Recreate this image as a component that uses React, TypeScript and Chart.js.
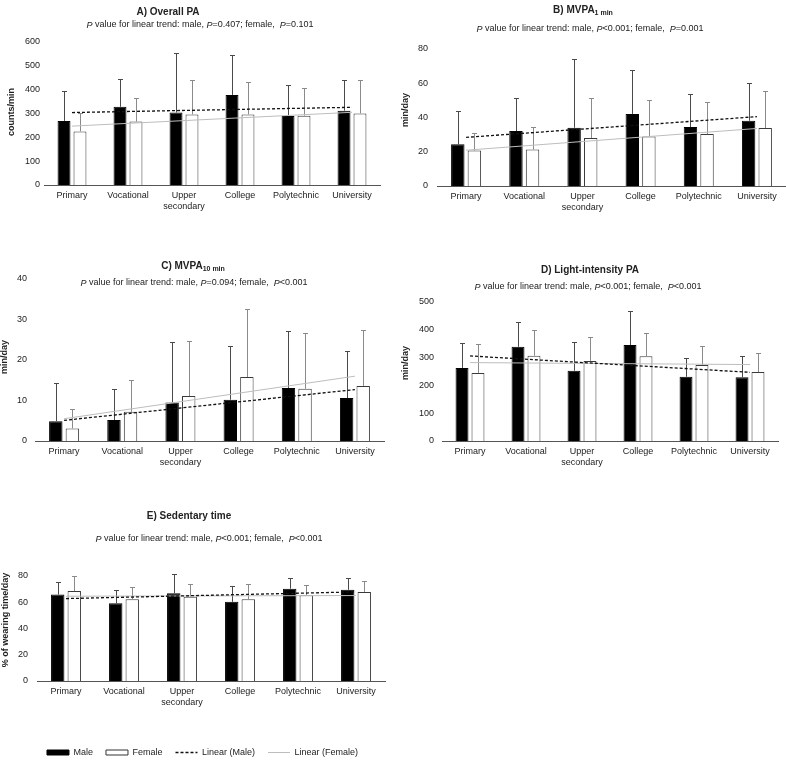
import React, { useEffect, useRef } from 'react';
import { Chart, registerables } from 'chart.js';

Chart.register(...registerables);

// ---------- data ----------
const categories = ['Primary', 'Vocational', 'Upper secondary', 'College', 'Polytechnic', 'University'];

// A) Overall PA (counts/min)
const aMale = [269, 328, 304, 378, 290, 312];
const aMaleSD = [124, 115, 251, 169, 128, 130];
const aFemale = [225, 266, 296, 296, 291, 300];
const aFemaleSD = [78, 98, 146, 135, 118, 142];
const aTrendMale = [304, 326];
const aTrendFemale = [247, 305];

// B) MVPA 1 min (min/day)
const bMale = [24.4, 32.1, 34.0, 42.1, 34.4, 38.1];
const bMaleSD = [19.2, 19.3, 40.1, 25.6, 19.2, 21.9];
const bFemale = [20.7, 21.3, 28.0, 28.9, 30.3, 33.8];
const bFemaleSD = [10.4, 13.3, 23.1, 21.4, 18.6, 21.7];
const bTrendMale = [28.4, 40.5];
const bTrendFemale = [20.9, 33.6];

// C) MVPA 10 min (min/day)
const cMale = [4.9, 5.2, 9.5, 10.2, 13.1, 10.6];
const cMaleSD = [9.5, 7.7, 15.0, 13.3, 14.0, 11.5];
const cFemale = [3.1, 7.2, 11.1, 15.8, 12.9, 13.6];
const cFemaleSD = [4.9, 7.9, 13.6, 16.7, 13.7, 13.8];
const cTrendMale = [5.1, 12.7];
const cTrendFemale = [5.5, 16.0];

// D) Light-intensity PA (min/day)
const dMale = [263, 339, 253, 345, 231, 229];
const dMaleSD = [90, 89, 102, 124, 68, 77];
const dFemale = [245, 307, 288, 305, 273, 248];
const dFemaleSD = [103, 91, 87, 83, 70, 69];
const dTrendMale = [306, 247];
const dTrendFemale = [282, 275];

// E) Sedentary time (% of wearing time/day)
const eMale = [65.9, 59.2, 66.9, 60.3, 70.3, 69.5];
const eMaleSD = [9.7, 9.8, 14.6, 12.0, 8.2, 9.2];
const eFemale = [68.5, 62.3, 64.1, 62.3, 65.4, 67.9];
const eFemaleSD = [11.2, 9.5, 10.0, 11.3, 7.7, 8.5];
const eTrendMale = [62.8, 67.9];
const eTrendFemale = [64.6, 65.1];

const legendLabels = ['Male', 'Female', 'Linear (Male)', 'Linear (Female)'];

// ---------- helpers ----------
type Seg = { t: string; i?: boolean; sub?: boolean };
const FONT = '"Liberation Sans", Arial, sans-serif';
const TEXT = '#222';

const pSub = (m: string, f: string): Seg[] => [
  { t: 'P', i: true },
  { t: ' value for linear trend: male, ' },
  { t: 'P', i: true },
  { t: m + '; female,  ' },
  { t: 'P', i: true },
  { t: f },
];

function segFont(s: Seg, size: number, bold: boolean) {
  const sz = s.sub ? Math.round(size * 0.65) : size;
  return `${s.i ? 'italic ' : ''}${bold ? 'bold ' : ''}${sz}px ${FONT}`;
}

function drawRich(ctx: CanvasRenderingContext2D, segs: Seg[], cx: number, cy: number, size: number, bold: boolean) {
  let total = 0;
  const widths = segs.map((s) => {
    ctx.font = segFont(s, size, bold);
    const w = ctx.measureText(s.t).width;
    total += w;
    return w;
  });
  let x = cx - total / 2;
  ctx.textAlign = 'left';
  ctx.textBaseline = 'middle';
  segs.forEach((s, k) => {
    ctx.font = segFont(s, size, bold);
    ctx.fillText(s.t, x, cy + (s.sub ? 3 : 0));
    x += widths[k];
  });
}

const panelTextPlugin = {
  id: 'panelText',
  afterLayout(chart: any, _args: any, o: any) {
    if (o && o.legendShift && chart.legend) {
      chart.legend.left += o.legendShift;
      chart.legend.right += o.legendShift;
    }
  },
  afterDraw(chart: any, _args: any, o: any) {
    if (!o || !o.title) return;
    const ctx = chart.ctx as CanvasRenderingContext2D;
    ctx.save();
    ctx.fillStyle = TEXT;
    drawRich(ctx, o.title, o.titleX, o.titleY, 10, true);
    drawRich(ctx, o.sub, o.subX, o.subY, 9, false);
    ctx.translate(o.yTitleX, o.yTitleY);
    ctx.rotate(-Math.PI / 2);
    ctx.font = `bold 9px ${FONT}`;
    ctx.textAlign = 'center';
    ctx.textBaseline = 'middle';
    ctx.fillText(o.yTitle, 0, 0);
    ctx.restore();
  },
};

const errorBarPlugin = {
  id: 'errorBars',
  afterDatasetDraw(chart: any, args: any) {
    const ds = chart.data.datasets[args.index];
    const sd = ds.errors as number[] | undefined;
    if (!sd) return;
    const yScale = chart.scales.y;
    const ctx = chart.ctx as CanvasRenderingContext2D;
    ctx.save();
    ctx.strokeStyle = ds.errorColor;
    ctx.lineWidth = 1;
    args.meta.data.forEach((bar: any, i: number) => {
      const top = Math.round(yScale.getPixelForValue(ds.data[i] + sd[i])) + 0.5;
      const x = Math.round(bar.x) + 0.5;
      ctx.beginPath();
      ctx.moveTo(x, bar.y);
      ctx.lineTo(x, top);
      ctx.moveTo(x - 2.5, top);
      ctx.lineTo(x + 2.5, top);
      ctx.stroke();
    });
    ctx.restore();
  },
};

interface PanelDef {
  left: number; top: number; width: number; height: number;
  plotLeft: number; plotRight: number; plotTop: number; plotBottom: number;
  yMax: number; yStep: number; tickPad: number;
  male: number[]; maleSD: number[]; female: number[]; femaleSD: number[];
  trendMale: number[]; trendFemale: number[];
  title: Seg[]; titleX: number; titleY: number;
  sub: Seg[]; subX: number; subY: number;
  yTitle: string; yTitleX: number; yTitleY: number;
  legend?: boolean;
  legendShift?: number;
}

const trendData = (t: number[]) => categories.map((_, i) => (i === 0 ? t[0] : i === categories.length - 1 ? t[1] : null));

const LEGEND_FONT = 9;
const LEGEND_PAD = 13;

function Panel({ p }: { p: PanelDef }) {
  const ref = useRef<HTMLCanvasElement>(null);
  useEffect(() => {
    const legendH = p.legend ? LEGEND_FONT + LEGEND_PAD + 10 : 0;
    const chart = new Chart(ref.current!, {
      type: 'bar',
      data: {
        labels: categories.map((c) => c.split(' ')),
        datasets: [
          {
            type: 'bar', label: legendLabels[0], data: p.male,
            backgroundColor: '#000', borderColor: '#000', borderWidth: 1,
            categoryPercentage: 0.57, barPercentage: 0.81, order: 1,
            errors: p.maleSD, errorColor: '#4a4a4a',
          } as any,
          {
            type: 'bar', label: legendLabels[1], data: p.female,
            backgroundColor: '#fff', borderColor: '#3a3a3a', borderWidth: 1,
            categoryPercentage: 0.57, barPercentage: 0.81, order: 1,
            errors: p.femaleSD, errorColor: '#8a8a8a',
          } as any,
          {
            type: 'line', label: legendLabels[2], data: trendData(p.trendMale),
            borderColor: '#111', borderWidth: 1.3, borderDash: [3, 2], pointRadius: 0,
            spanGaps: true, fill: false, order: 0, tension: 0,
          } as any,
          {
            type: 'line', label: legendLabels[3], data: trendData(p.trendFemale),
            borderColor: '#bdbdbd', borderWidth: 1, pointRadius: 0,
            spanGaps: true, fill: false, order: 0, tension: 0,
          } as any,
        ],
      },
      options: {
        responsive: false,
        animation: false,
        devicePixelRatio: 1,
        layout: {
          padding: { left: 0, top: p.plotTop, right: p.width - p.plotRight, bottom: 0 },
        },
        plugins: {
          title: { display: false },
          tooltip: { enabled: false },
          legend: p.legend
            ? {
                display: true,
                position: 'bottom',
                labels: {
                  usePointStyle: true,
                  pointStyleWidth: 22,
                  boxHeight: 5,
                  padding: LEGEND_PAD,
                  color: TEXT,
                  font: { family: FONT, size: LEGEND_FONT },
                  generateLabels: () => [
                    { text: legendLabels[0], fillStyle: '#000', strokeStyle: '#000', lineWidth: 1, pointStyle: 'rect', hidden: false, datasetIndex: 0, fontColor: TEXT },
                    { text: legendLabels[1], fillStyle: '#fff', strokeStyle: '#333', lineWidth: 1, pointStyle: 'rect', hidden: false, datasetIndex: 1, fontColor: TEXT },
                    { text: legendLabels[2], fillStyle: 'rgba(0,0,0,0)', strokeStyle: '#111', lineWidth: 1.3, lineDash: [3, 2], pointStyle: 'line', hidden: false, datasetIndex: 2, fontColor: TEXT },
                    { text: legendLabels[3], fillStyle: 'rgba(0,0,0,0)', strokeStyle: '#bdbdbd', lineWidth: 1, pointStyle: 'line', hidden: false, datasetIndex: 3, fontColor: TEXT },
                  ],
                },
              }
            : { display: false },
          panelText: {
            title: p.title, titleX: p.titleX, titleY: p.titleY,
            sub: p.sub, subX: p.subX, subY: p.subY,
            yTitle: p.yTitle, yTitleX: p.yTitleX, yTitleY: p.yTitleY,
            legendShift: p.legendShift || 0,
          },
        } as any,
        scales: {
          x: {
            grid: { display: false, drawTicks: false },
            border: { display: true, color: '#555', width: 1 },
            ticks: {
              color: TEXT, font: { family: FONT, size: 9 }, padding: 5,
              maxRotation: 0, autoSkip: false,
            },
            afterFit: (s: any) => { s.height = p.height - p.plotBottom - legendH; },
          },
          y: {
            min: 0, max: p.yMax,
            grid: { display: false, drawTicks: false },
            border: { display: false },
            ticks: {
              stepSize: p.yStep, color: TEXT, font: { family: FONT, size: 9 }, padding: p.tickPad,
            },
            afterFit: (s: any) => { s.width = p.plotLeft; },
          },
        },
      } as any,
      plugins: [panelTextPlugin, errorBarPlugin],
    });
    return () => chart.destroy();
  }, [p]);
  return (
    <canvas
      ref={ref}
      width={p.width}
      height={p.height}
      style={{ position: 'absolute', left: p.left, top: p.top, width: p.width, height: p.height }}
    />
  );
}

const panels: PanelDef[] = [
  {
    left: 0, top: 0, width: 393, height: 230,
    plotLeft: 44, plotRight: 380, plotTop: 42, plotBottom: 185,
    yMax: 600, yStep: 100, tickPad: 4,
    male: aMale, maleSD: aMaleSD, female: aFemale, femaleSD: aFemaleSD,
    trendMale: aTrendMale, trendFemale: aTrendFemale,
    title: [{ t: 'A) Overall PA' }], titleX: 168, titleY: 12,
    sub: pSub('=0.407', '=0.101'), subX: 200, subY: 25,
    yTitle: 'counts/min', yTitleX: 12, yTitleY: 112,
  },
  {
    left: 393, top: 0, width: 393, height: 230,
    plotLeft: 44, plotRight: 393, plotTop: 49, plotBottom: 186,
    yMax: 80, yStep: 20, tickPad: 9,
    male: bMale, maleSD: bMaleSD, female: bFemale, femaleSD: bFemaleSD,
    trendMale: bTrendMale, trendFemale: bTrendFemale,
    title: [{ t: 'B) MVPA' }, { t: '1 min', sub: true }], titleX: 190, titleY: 10,
    sub: pSub('<0.001', '=0.001'), subX: 197, subY: 29,
    yTitle: 'min/day', yTitleX: 13, yTitleY: 110,
  },
  {
    left: 0, top: 230, width: 393, height: 250,
    plotLeft: 35, plotRight: 384, plotTop: 49, plotBottom: 211,
    yMax: 40, yStep: 10, tickPad: 8,
    male: cMale, maleSD: cMaleSD, female: cFemale, femaleSD: cFemaleSD,
    trendMale: cTrendMale, trendFemale: cTrendFemale,
    title: [{ t: 'C) MVPA' }, { t: '10 min', sub: true }], titleX: 193, titleY: 36,
    sub: pSub('=0.094', '<0.001'), subX: 194, subY: 53,
    yTitle: 'min/day', yTitleX: 5, yTitleY: 127,
  },
  {
    left: 393, top: 230, width: 393, height: 250,
    plotLeft: 49, plotRight: 385, plotTop: 72, plotBottom: 211,
    yMax: 500, yStep: 100, tickPad: 8,
    male: dMale, maleSD: dMaleSD, female: dFemale, femaleSD: dFemaleSD,
    trendMale: dTrendMale, trendFemale: dTrendFemale,
    title: [{ t: 'D) Light-intensity PA' }], titleX: 197, titleY: 40,
    sub: pSub('<0.001', '<0.001'), subX: 195, subY: 57,
    yTitle: 'min/day', yTitleX: 13, yTitleY: 133,
  },
  {
    left: 0, top: 480, width: 428, height: 287,
    plotLeft: 37, plotRight: 385, plotTop: 96, plotBottom: 201,
    yMax: 80, yStep: 20, tickPad: 9,
    male: eMale, maleSD: eMaleSD, female: eFemale, femaleSD: eFemaleSD,
    trendMale: eTrendMale, trendFemale: eTrendFemale,
    title: [{ t: 'E) Sedentary time' }], titleX: 189, titleY: 36,
    sub: pSub('<0.001', '<0.001'), subX: 209, subY: 59,
    yTitle: '% of wearing time/day', yTitleX: 6, yTitleY: 140,
    legend: true,
    legendShift: 10,
  },
];

export default function App() {
  return (
    <div
      style={{
        position: 'absolute', left: 0, top: 0, width: 786, height: 763,
        overflow: 'hidden', background: '#fff',
      }}
    >
      {panels.map((p, i) => (
        <Panel key={i} p={p} />
      ))}
    </div>
  );
}
